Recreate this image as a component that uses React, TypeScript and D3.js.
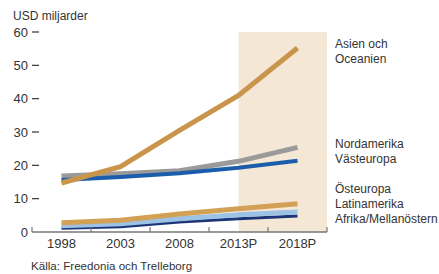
import { useEffect, useRef } from 'react';
import * as d3 from 'd3';

const years = ['1998', '2003', '2008', '2013P', '2018P'];
const yTicks = [0, 10, 20, 30, 40, 50, 60];

const asia = [14.7, 19.6, 30.5, 41, 55.2];
const northAmerica = [16.8, 17.5, 18.4, 21.2, 25.4];
const westEurope = [15.6, 16.5, 17.6, 19.3, 21.4];
const eastEurope = [2.8, 3.5, 5.4, 7, 8.5];
const latinAmerica = [1.9, 2.5, 4, 5.2, 6];
const africaMideast = [1.1, 1.6, 3, 4, 4.8];

const seriesList = [
  { name: 'Nordamerika', values: northAmerica, color: '#9a9a9a', width: 5 },
  { name: 'Västeuropa', values: westEurope, color: '#1a5eab', width: 4 },
  { name: 'Afrika/Mellanöstern', values: africaMideast, color: '#1b3576', width: 3 },
  { name: 'Latinamerika', values: latinAmerica, color: '#9cc2e5', width: 5 },
  { name: 'Östeuropa', values: eastEurope, color: '#d3a155', width: 5 },
  { name: 'Asien och Oceanien', values: asia, color: '#c9954a', width: 5 },
];

const legendGroups = [
  { lines: ['Asien och', 'Oceanien'], y: 48 },
  { lines: ['Nordamerika', 'Västeuropa'], y: 148 },
  { lines: ['Östeuropa', 'Latinamerika', 'Afrika/Mellanöstern'], y: 193 },
];

export default function App() {
  const svgRef = useRef<SVGSVGElement | null>(null);

  useEffect(() => {
    if (!svgRef.current) return;
    const svg = d3.select(svgRef.current);
    svg.selectAll('*').remove();

    const font = 'Arial, "Liberation Sans", sans-serif';
    const textColor = '#333';

    const x = d3.scaleBand<string>().domain(years).range([32, 327]);
    const y = d3.scaleLinear().domain([0, 60]).range([232, 32]);
    const cx = (c: string) => (x(c) ?? 0) + x.bandwidth() / 2;

    // forecast shading
    svg
      .append('rect')
      .attr('x', cx('2013P'))
      .attr('y', y(60))
      .attr('width', 327 - cx('2013P'))
      .attr('height', y(0) - y(60))
      .attr('fill', '#f4e7d5');

    // y axis
    const yAxis = svg.append('g').attr('font-family', font).attr('font-size', 13).attr('fill', textColor);
    yAxis
      .selectAll('text')
      .data(yTicks)
      .enter()
      .append('text')
      .attr('x', 28)
      .attr('y', (d) => y(d) + 4.5)
      .attr('text-anchor', 'end')
      .text((d) => d);
    yAxis
      .selectAll('line')
      .data(yTicks.filter((d) => d > 0))
      .enter()
      .append('line')
      .attr('x1', 32)
      .attr('x2', 39)
      .attr('y1', (d) => y(d))
      .attr('y2', (d) => y(d))
      .attr('stroke', '#333')
      .attr('stroke-width', 1.2);

    svg
      .append('text')
      .attr('x', 13)
      .attr('y', 20)
      .attr('font-family', font)
      .attr('font-size', 12)
      .attr('fill', textColor)
      .text('USD miljarder');

    // lines
    const line = d3
      .line<number>()
      .x((_, i) => cx(years[i]))
      .y((d) => y(d));

    seriesList.forEach((s) => {
      svg
        .append('path')
        .datum(s.values)
        .attr('fill', 'none')
        .attr('stroke', s.color)
        .attr('stroke-width', s.width)
        .attr('stroke-linejoin', 'miter')
        .attr('d', line);
    });

    // x axis
    const xAxis = svg.append('g');
    xAxis
      .append('line')
      .attr('x1', 32)
      .attr('x2', 327)
      .attr('y1', y(0))
      .attr('y2', y(0))
      .attr('stroke', '#777')
      .attr('stroke-width', 1.5);
    const edges = [...years.map((c) => x(c) ?? 0), 327];
    xAxis
      .selectAll('.tick')
      .data(edges)
      .enter()
      .append('line')
      .attr('class', 'tick')
      .attr('x1', (d) => d)
      .attr('x2', (d) => d)
      .attr('y1', y(0))
      .attr('y2', y(0) - 5)
      .attr('stroke', '#777')
      .attr('stroke-width', 1.2);
    xAxis
      .selectAll('text')
      .data(years)
      .enter()
      .append('text')
      .attr('x', (d) => cx(d))
      .attr('y', 248)
      .attr('text-anchor', 'middle')
      .attr('font-family', font)
      .attr('font-size', 13)
      .attr('fill', textColor)
      .text((d) => d);

    // legend labels
    legendGroups.forEach((g) => {
      g.lines.forEach((l, i) => {
        svg
          .append('text')
          .attr('x', 335)
          .attr('y', g.y + i * 15)
          .attr('font-family', font)
          .attr('font-size', 12)
          .attr('fill', textColor)
          .text(l);
      });
    });

    svg
      .append('text')
      .attr('x', 31)
      .attr('y', 270)
      .attr('font-family', font)
      .attr('font-size', 11.6)
      .attr('fill', textColor)
      .text('Källa: Freedonia och Trelleborg');
  }, []);

  return (
    <svg
      ref={svgRef}
      width={439}
      height={274}
      style={{ position: 'absolute', left: 0, top: 0, background: '#fff' }}
    />
  );
}
